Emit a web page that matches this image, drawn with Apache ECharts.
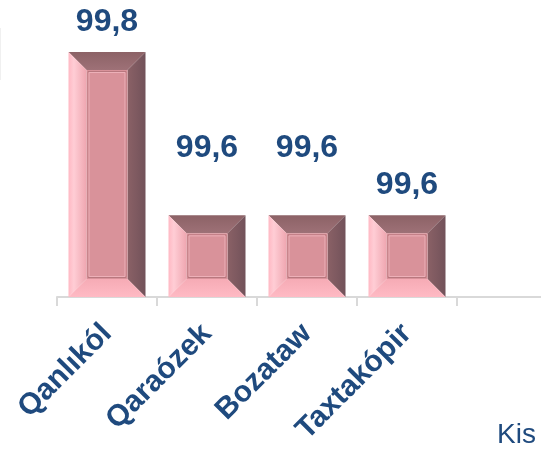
<!DOCTYPE html>
<html>
<head>
<meta charset="utf-8">
<script src="https://cdn.jsdelivr.net/npm/echarts@6/dist/echarts.min.js"></script>
<style>
  html, body { margin: 0; padding: 0; background: #fff; }
  #chart { width: 541px; height: 449px; }
</style>
</head>
<body>
<div id="chart"></div>
<script>
// data
const categories = ['Qanlıkól', 'Qaraózek', 'Bozataw', 'Taxtakópir', ''];
const values = [99.8, 99.6, 99.6, 99.6, null];
const valueLabels = ['99,8', '99,6', '99,6', '99,6', ''];

const BLUE = '#1F4A7E';
const BASE = 99.5;
// gap between bar top and its label (labels are not aligned in the original)
const labelGap = [14, 51, 51, 14];

const chart = echarts.init(document.getElementById('chart'));

function renderBevelBar(params, api) {
    const idx = api.value(0);
    const v = api.value(1);
    if (v == null || isNaN(v)) return;
    const top = api.coord([idx, v]);
    const base = api.coord([idx, BASE]);
    const w = api.size([1, 0])[0] * 0.77;
    const x0 = top[0] - w / 2, x1 = top[0] + w / 2;
    const y0 = top[1], y1 = base[1];
    const b = 18;
    const poly = (pts, fill) => ({ type: 'polygon', shape: { points: pts }, style: { fill: fill } });
    return {
        type: 'group',
        children: [
            // top bevel
            poly([[x0, y0], [x1, y0], [x1 - b, y0 + b], [x0 + b, y0 + b]],
                new echarts.graphic.LinearGradient(0, 0, 0, 1, [
                    { offset: 0, color: '#8C6266' }, { offset: 1, color: '#9E7177' }])),
            // left bevel
            poly([[x0, y0], [x0 + b, y0 + b], [x0 + b, y1 - b], [x0, y1]],
                new echarts.graphic.LinearGradient(0, 0, 1, 0, [
                    { offset: 0, color: '#FFB9C4' }, { offset: 0.3, color: '#FFCDD5' }, { offset: 1, color: '#EFA6B0' }])),
            // right bevel
            poly([[x1, y0], [x1, y1], [x1 - b, y1 - b], [x1 - b, y0 + b]],
                new echarts.graphic.LinearGradient(0, 0, 1, 0, [
                    { offset: 0, color: '#8A6166' }, { offset: 1, color: '#72525A' }])),
            // bottom bevel
            poly([[x0, y1], [x0 + b, y1 - b], [x1 - b, y1 - b], [x1, y1]],
                new echarts.graphic.LinearGradient(0, 0, 0, 1, [
                    { offset: 0, color: '#F6ABB5' }, { offset: 1, color: '#FFBAC4' }])),
            // face
            {
                type: 'rect',
                shape: { x: x0 + b, y: y0 + b, width: w - 2 * b, height: y1 - y0 - 2 * b },
                style: { fill: '#D9929A' }
            },
            {
                type: 'rect',
                shape: { x: x0 + b + 1.5, y: y0 + b + 1.5, width: w - 2 * b - 3, height: y1 - y0 - 2 * b - 3 },
                style: { fill: 'none', stroke: '#B9787F', lineWidth: 1 }
            },
            {
                type: 'rect',
                shape: { x: x0 + b + 2.5, y: y0 + b + 2.5, width: w - 2 * b - 5, height: y1 - y0 - 2 * b - 5 },
                style: { fill: 'none', stroke: '#EDB0B8', lineWidth: 1 }
            },
            // value label
            {
                type: 'text',
                x: top[0],
                y: y0 - labelGap[idx],
                style: {
                    text: valueLabels[idx],
                    fill: BLUE,
                    font: 'bold 32px "Liberation Sans", Arial, sans-serif',
                    align: 'center',
                    verticalAlign: 'bottom'
                }
            }
        ]
    };
}

const option = {
    animation: false,
    grid: { left: 57, top: 52, width: 500, bottom: 152, outerBoundsMode: 'none', containLabel: false },
    xAxis: {
        type: 'category',
        data: categories,
        axisLine: { lineStyle: { color: '#D9D9D9', width: 2 } },
        axisTick: { show: true, length: 9, lineStyle: { color: '#D9D9D9', width: 2 } },
        axisLabel: {
            rotate: 45,
            margin: 32,
            color: BLUE,
            fontFamily: '"Liberation Sans", Arial, sans-serif',
            fontWeight: 'bold',
            fontSize: 30
        }
    },
    yAxis: {
        type: 'value',
        min: BASE,
        max: 99.8,
        show: false,
        splitLine: { show: false }
    },
    series: [{
        type: 'custom',
        renderItem: renderBevelBar,
        encode: { x: 0, y: 1 },
        data: values.map((v, i) => [i, v == null ? '-' : v])
    }],
    graphic: [
        {
            type: 'text',
            left: 497,
            top: 421,
            style: {
                text: 'Kis',
                fill: BLUE,
                font: '28px "Liberation Sans", Arial, sans-serif'
            }
        },
        {
            type: 'line',
            shape: { x1: 0.5, y1: 28, x2: 0.5, y2: 80 },
            style: { stroke: '#F0F0F0', lineWidth: 1 }
        }
    ]
};

chart.setOption(option);
</script>
</body>
</html>
